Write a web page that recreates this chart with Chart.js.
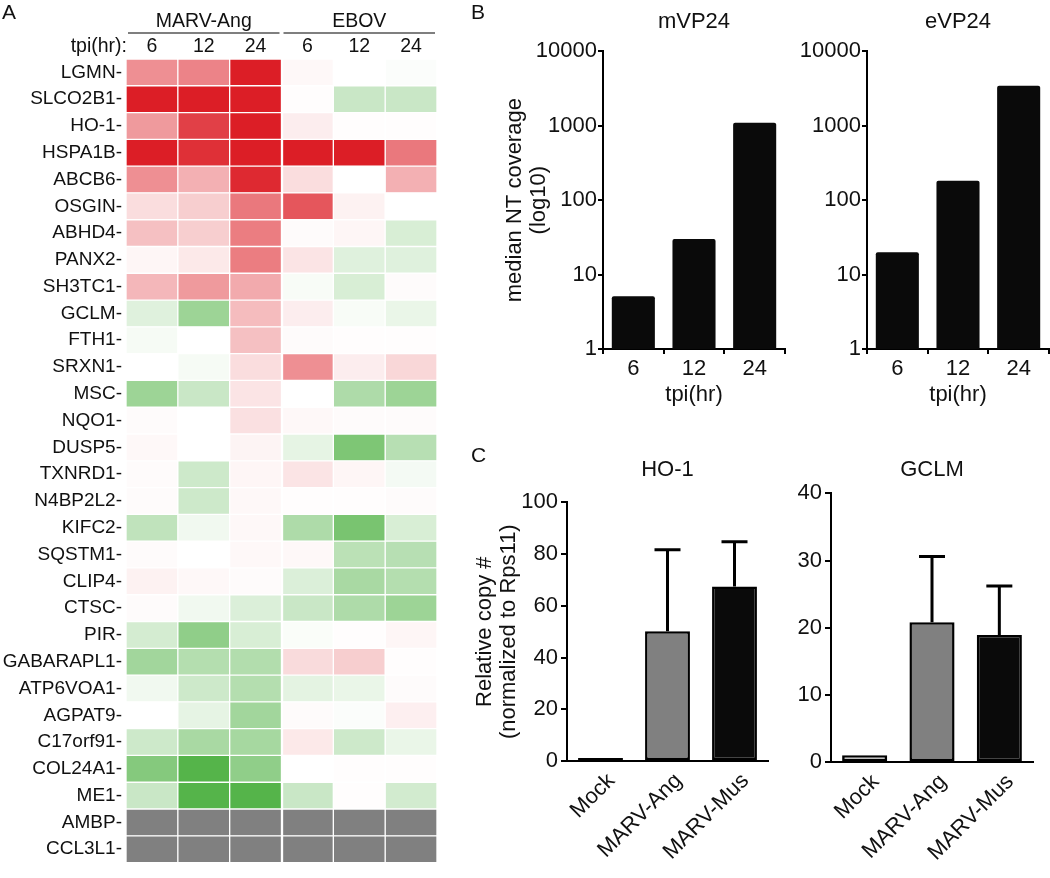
<!DOCTYPE html>
<html>
<head>
<meta charset="utf-8">
<script src="https://cdn.jsdelivr.net/npm/chart.js@4.4.1/dist/chart.umd.min.js"></script>
<style>
  body { margin: 0; background: #fff; }
  #wrap { position: relative; width: 1050px; height: 878px; overflow: hidden;
          font-family: "Liberation Sans", Arial, sans-serif; color: #111; }
  canvas { position: absolute; }
  .panel { position: absolute; font-size: 21px; line-height: 1; }
</style>
</head>
<body>
<div id="wrap">
  <canvas id="heat" width="460" height="878" style="left:0;top:0"></canvas>
  <canvas id="mvp" width="330" height="410" style="left:470px;top:0"></canvas>
  <canvas id="evp" width="310" height="410" style="left:740px;top:0"></canvas>
  <canvas id="ho1" width="320" height="438" style="left:470px;top:440px"></canvas>
  <canvas id="gclm" width="310" height="438" style="left:740px;top:440px"></canvas>
  <div class="panel" style="left:2px;top:1px">A</div>
  <div class="panel" style="left:471px;top:1px">B</div>
  <div class="panel" style="left:471px;top:444px">C</div>
</div>
<script>
// ---- panel A: heatmap ----
const genes = ["LGMN", "SLCO2B1", "HO-1", "HSPA1B", "ABCB6", "OSGIN", "ABHD4", "PANX2",
  "SH3TC1", "GCLM", "FTH1", "SRXN1", "MSC", "NQO1", "DUSP5", "TXNRD1", "N4BP2L2",
  "KIFC2", "SQSTM1", "CLIP4", "CTSC", "PIR", "GABARAPL1", "ATP6VOA1", "AGPAT9",
  "C17orf91", "COL24A1", "ME1", "AMBP", "CCL3L1"];
const groups = ["MARV-Ang", "EBOV"];
const tpiLabels = ["6", "12", "24"];

// relative change, -1 (green, down) .. +1 (red, up); null = not detected (grey)
const marv6  = [0.5, 1, 0.45, 1, 0.5, 0.15, 0.28, 0.04, 0.32, -0.18, -0.05, 0, -0.55, 0.02, 0.03,
  0.02, 0.02, -0.35, 0.02, 0.06, 0.02, -0.24, -0.52, -0.08, 0, -0.28, -0.68, -0.3, null, null];
const marv12 = [0.55, 1, 0.85, 0.92, 0.35, 0.22, 0.22, 0.1, 0.45, -0.55, 0, -0.05, -0.3, 0, 0,
  -0.28, -0.28, -0.08, 0, 0.03, -0.08, -0.62, -0.42, -0.28, -0.14, -0.48, -0.95, -0.95, null, null];
const marv24 = [1, 1, 1, 1, 0.95, 0.6, 0.58, 0.58, 0.38, 0.3, 0.28, 0.15, 0.12, 0.14, 0.05,
  0.04, 0.03, 0.03, 0.03, 0.02, -0.2, -0.22, -0.43, -0.42, -0.52, -0.5, -0.62, -0.95, null, null];
const ebov6  = [0.03, 0.01, 0.08, 1, 0.15, 0.75, 0.02, 0.12, -0.04, 0.08, 0.02, 0.5, 0, 0.03, -0.14,
  0.12, 0.01, -0.45, 0.03, -0.2, -0.3, -0.03, 0.16, -0.15, 0.02, 0.1, 0, -0.3, null, null];
const ebov12 = [0, -0.3, 0.01, 1, 0, 0.06, 0.04, -0.18, -0.22, -0.04, 0.01, 0.08, -0.45, 0.02, -0.72,
  0.04, 0.01, -0.75, -0.38, -0.48, -0.45, 0.01, 0.22, -0.12, -0.02, -0.28, 0.01, 0.01, null, null];
const ebov24 = [-0.02, -0.3, 0.01, 0.6, 0.35, 0, -0.22, -0.18, 0.02, -0.12, 0.01, 0.18, -0.55, 0.02, -0.4,
  -0.06, 0.02, -0.22, -0.4, -0.42, -0.55, 0.04, 0.01, 0.02, 0.07, -0.12, 0.01, -0.25, null, null];
const heatCols = [marv6, marv12, marv24, ebov6, ebov12, ebov24];

// ---- panel B: median NT coverage ----
const tpiCats = ["6", "12", "24"];
const mVP24 = [5.1, 30, 1100];
const eVP24 = [20, 183, 3460];
const logTicks = [1, 10, 100, 1000, 10000];

// ---- panel C: qPCR ----
const infCats = ["Mock", "MARV-Ang", "MARV-Mus"];
const ho1Mean = [0.3, 50.2, 67.5];
const ho1Err = [0, 31.5, 17.3];
const gclmMean = [1, 20.8, 18.9];
const gclmErr = [0, 9.8, 7.3];
const ho1Ticks = [0, 20, 40, 60, 80, 100];
const gclmTicks = [0, 10, 20, 30, 40];
const infColors = ["#ffffff", "#808080", "#0a0a0a"];

const FONT = '"Liberation Sans", Arial, sans-serif';
Chart.defaults.font.family = FONT;
Chart.defaults.color = "#111";
Chart.defaults.animation = false;
Chart.defaults.plugins.legend.display = false;
Chart.defaults.plugins.tooltip.enabled = false;

function cellColor(v) {
  if (v === null) return "rgb(128,128,128)";
  const t = Math.min(1, Math.abs(v));
  const c = v >= 0 ? [220, 30, 38] : [76, 176, 64];
  const mix = (a) => Math.round(255 + (a - 255) * t);
  return "rgb(" + mix(c[0]) + "," + mix(c[1]) + "," + mix(c[2]) + ")";
}

const heatHeader = {
  id: "heatHeader",
  afterDraw: function (chart) {
    const ctx = chart.ctx;
    const x = chart.scales.x;
    ctx.save();
    ctx.font = "19.5px " + FONT;
    ctx.fillStyle = "#111";
    ctx.textAlign = "center";
    ctx.textBaseline = "middle";
    groups.forEach(function (g, gi) {
      const x0 = x.getPixelForValue(gi * 3);
      const x1 = x.getPixelForValue(gi * 3 + 3);
      ctx.fillText(g, (x0 + x1) / 2, 22);
      ctx.strokeStyle = "#555";
      ctx.lineWidth = 1.5;
      ctx.beginPath();
      ctx.moveTo(x0 + 2, 33);
      ctx.lineTo(x1 - 2, 33);
      ctx.stroke();
      tpiLabels.forEach(function (t, ti) {
        ctx.fillText(t, x.getPixelForValue(gi * 3 + ti + 0.5), 47);
      });
    });
    ctx.textAlign = "right";
    ctx.fillText("tpi(hr):", x.left + 1, 47);
    ctx.restore();
  },
};

new Chart(document.getElementById("heat"), {
  type: "bar",
  data: {
    labels: genes,
    datasets: heatCols.map(function (col, k) {
      return {
        data: col.map(function () { return 1; }),
        backgroundColor: col.map(cellColor),
        borderColor: "#fff",
        borderWidth: k === 3 ? { left: 2, right: 1, top: 1, bottom: 1 } : 1,
        borderSkipped: false,
        barPercentage: 1,
        categoryPercentage: 1,
      };
    }),
  },
  options: {
    responsive: false,
    indexAxis: "y",
    layout: { padding: { top: 59, right: 23, bottom: 1, left: 0 } },
    scales: {
      x: { type: "linear", min: 0, max: 6, stacked: true, display: false },
      y: {
        stacked: true,
        grid: { display: false, drawTicks: false },
        border: { display: false },
        afterFit: function (s) { s.width = 126; },
        ticks: {
          autoSkip: false,
          padding: 4,
          font: { size: 19 },
          callback: function (v, i) { return genes[i] + "-"; },
        },
      },
    },
  },
  plugins: [heatHeader],
});

// ---- bar chart helpers ----
const errorBars = {
  id: "errorBars",
  afterDatasetsDraw: function (chart, args, opts) {
    const errs = opts.errors;
    if (!errs) return;
    const y = chart.scales.y;
    const vals = chart.data.datasets[0].data;
    const ctx = chart.ctx;
    ctx.save();
    ctx.strokeStyle = "#000";
    ctx.lineWidth = 3;
    chart.getDatasetMeta(0).data.forEach(function (bar, i) {
      if (!errs[i]) return;
      const yTop = y.getPixelForValue(vals[i] + errs[i]);
      const yBase = y.getPixelForValue(vals[i]);
      ctx.beginPath();
      ctx.moveTo(bar.x, yBase);
      ctx.lineTo(bar.x, yTop);
      ctx.moveTo(bar.x - 13, yTop);
      ctx.lineTo(bar.x + 13, yTop);
      ctx.stroke();
    });
    ctx.restore();
  },
};

function logBarChart(id, title, values, yWidth, padRight, yTitle) {
  return new Chart(document.getElementById(id), {
    type: "bar",
    data: {
      labels: tpiCats,
      datasets: [{
        data: values,
        backgroundColor: "#0a0a0a",
        borderWidth: 0,
        borderRadius: 2,
        barPercentage: 0.71,
        categoryPercentage: 1,
      }],
    },
    options: {
      responsive: false,
      layout: { padding: { top: 0, right: padRight, bottom: 0, left: 0 } },
      plugins: {
        title: {
          display: true, text: title, fullSize: false,
          font: { size: 22, weight: "normal" }, color: "#111",
          padding: { top: 9, bottom: 16 },
        },
      },
      scales: {
        x: {
          afterFit: function (s) { s.height = 61; },
          grid: { drawOnChartArea: false, drawTicks: true, tickLength: 5, color: "#000", lineWidth: 2 },
          border: { color: "#000", width: 2 },
          ticks: { font: { size: 22 }, padding: 2 },
          title: { display: true, text: "tpi(hr)", font: { size: 22 }, padding: { top: 0, bottom: 2 } },
        },
        y: {
          type: "logarithmic", min: 1, max: 10000,
          afterFit: function (s) { s.width = yWidth; },
          afterBuildTicks: function (s) { s.ticks = logTicks.map(function (v) { return { value: v }; }); },
          grid: { drawOnChartArea: false, drawTicks: true, tickLength: 5, color: "#000", lineWidth: 2 },
          border: { color: "#000", width: 2 },
          ticks: { font: { size: 22 }, padding: 1, callback: function (v) { return String(v); } },
          title: {
            display: !!yTitle, text: yTitle || "",
            font: { size: 22, lineHeight: 1.1 }, padding: { top: 33, bottom: 0 },
          },
        },
      },
    },
  });
}

function qpcrChart(id, title, means, errs, ticks, yMax, yWidth, padRight, titlePad, yTitle, xHeight) {
  return new Chart(document.getElementById(id), {
    type: "bar",
    data: {
      labels: infCats,
      datasets: [{
        data: means,
        backgroundColor: infColors,
        borderColor: "#000",
        borderWidth: 2.5,
        borderSkipped: false,
        minBarLength: 3,
        barPercentage: 0.67,
        categoryPercentage: 1,
      }],
    },
    options: {
      responsive: false,
      layout: { padding: { top: 0, right: padRight, bottom: 0, left: 0 } },
      plugins: {
        title: {
          display: true, text: title, fullSize: false,
          font: { size: 22, weight: "normal" }, color: "#111",
          padding: titlePad,
        },
        errorBars: { errors: errs },
      },
      scales: {
        x: {
          afterFit: function (s) { s.height = xHeight; },
          grid: { display: false },
          border: { color: "#000", width: 2 },
          ticks: { font: { size: 22 }, minRotation: 45, maxRotation: 45, padding: -1, labelOffset: 11 },
        },
        y: {
          min: 0, max: yMax,
          afterFit: function (s) { s.width = yWidth; },
          afterBuildTicks: function (s) { s.ticks = ticks.map(function (v) { return { value: v }; }); },
          grid: { drawOnChartArea: false, drawTicks: true, tickLength: 6, color: "#000", lineWidth: 2 },
          border: { color: "#000", width: 2 },
          ticks: { font: { size: 22 }, padding: 3 },
          title: {
            display: !!yTitle, text: yTitle || "",
            font: { size: 22, lineHeight: 1.1 }, padding: { top: 3, bottom: 0 },
          },
        },
      },
    },
    plugins: [errorBars],
  });
}

logBarChart("mvp", "mVP24", mVP24, 133, 15, ["median NT coverage", "(log10)"]);
logBarChart("evp", "eVP24", eVP24, 127, 1, null);

qpcrChart("ho1", "HO-1", ho1Mean, ho1Err, ho1Ticks, 100, 97, 22,
  { top: 17, bottom: 19 }, ["Relative copy #", "(normalized to Rps11)"], 117);
qpcrChart("gclm", "GCLM", gclmMean, gclmErr, gclmTicks, 40, 91, 17,
  { top: 17, bottom: 10 }, null, 116);
</script>
</body>
</html>
